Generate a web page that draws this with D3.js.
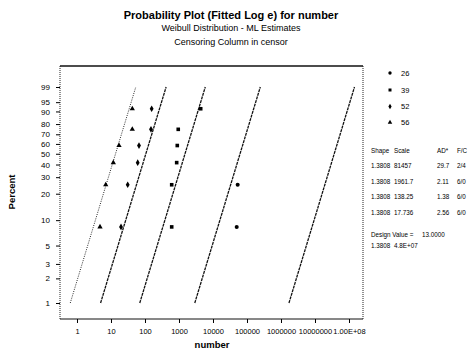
<!DOCTYPE html>
<html>
<head>
<meta charset="utf-8">
<script src="https://cdn.jsdelivr.net/npm/d3@7"></script>
<style>
  body { margin: 0; background: #fff; }
  svg { font-family: "Liberation Sans", Arial, sans-serif; }
  svg text { fill: #000; }
  .tbl { font-family: "Liberation Sans Narrow", "Arial Narrow", "Liberation Sans", sans-serif; font-size: 6.3px; }
  .tick text { font-family: "Liberation Sans Narrow", "Arial Narrow", "Liberation Sans", sans-serif; }
</style>
</head>
<body>
<svg id="chart" width="471" height="354"></svg>
<script>
// stress levels and the failure times
var groups = ["26", "39", "52", "56"];
var fail26 = [49800, 53200];
var fail39 = [610, 610, 855, 890, 950, 4350];
var fail52 = [19.7, 31, 61, 66.6, 150, 157];
var fail56 = [4.75, 7, 11.7, 17.2, 42.3, 42.3];
var sampleSize = [6, 6, 6, 6];

// fitted Weibull parameters (common shape)
var shapes = [1.3808, 1.3808, 1.3808, 1.3808];
var scales = [81457, 1961.7, 138.25, 17.736];
var adStats = ["29.7", "2.11", "1.38", "2.56"];
var fcCounts = ["2/4", "6/0", "6/0", "6/0"];

var designValue = "13.0000";
var designShape = 1.3808;
var designScale = 4.8e7;

var xTicks = [1, 10, 100, 1000, 10000, 100000, 1000000, 10000000, 100000000];
var xTickLabels = ["1", "10", "100", "1000", "10000", "100000", "1000000", "10000000", "1.00E+08"];
var yTicks = [1, 2, 3, 5, 10, 20, 30, 40, 50, 60, 70, 80, 90, 95, 99];

var failures = [fail26, fail39, fail52, fail56];
var symbols = [d3.symbolCircle, d3.symbolSquare, d3.symbolDiamond, d3.symbolTriangle];

var svg = d3.select("#chart");
var mLeft = 60, mRight = 363, mTop = 66, mBottom = 319;

// weibull probability transform
function wb(p) { return Math.log(-Math.log(1 - p)); }

var x = d3.scaleLog()
  .domain([Math.pow(10, -0.5), Math.pow(10, 8.412)])
  .range([mLeft, mRight]);
var y = d3.scaleLinear()
  .domain([-5.054, 2.123])
  .range([mBottom, mTop]);

// titles
svg.append("text").attr("x", 231).attr("y", 19).attr("text-anchor", "middle")
  .attr("font-size", 11).attr("font-weight", "bold").text("Probability Plot (Fitted Log e) for number");
svg.append("text").attr("x", 231).attr("y", 31).attr("text-anchor", "middle")
  .attr("font-size", 9).text("Weibull Distribution - ML Estimates");
svg.append("text").attr("x", 231).attr("y", 45).attr("text-anchor", "middle")
  .attr("font-size", 9).text("Censoring Column in censor");

// frame
svg.append("line").attr("x1", mLeft).attr("x2", mRight).attr("y1", mTop).attr("y2", mTop)
  .attr("stroke", "#111").attr("stroke-width", 1.3);
svg.append("line").attr("x1", mLeft).attr("x2", mRight).attr("y1", mBottom).attr("y2", mBottom)
  .attr("stroke", "#111").attr("stroke-width", 1);
svg.append("line").attr("x1", mLeft).attr("x2", mLeft).attr("y1", mTop).attr("y2", mBottom)
  .attr("stroke", "#222").attr("stroke-dasharray", "1,1");
svg.append("line").attr("x1", mRight).attr("x2", mRight).attr("y1", mTop).attr("y2", mBottom)
  .attr("stroke", "#222").attr("stroke-dasharray", "1,1");

// axes
var xAxis = d3.axisBottom(x).tickValues(xTicks)
  .tickFormat(function(d, i) { return xTickLabels[i]; })
  .tickSize(4).tickPadding(6);
var gx = svg.append("g").attr("transform", "translate(0," + mBottom + ")").call(xAxis);
gx.select(".domain").remove();
gx.selectAll("text").attr("font-size", 7.5);

var yAxis = d3.axisLeft(y).tickValues(yTicks.map(function(p) { return wb(p / 100); }))
  .tickFormat(function(d, i) { return yTicks[i]; })
  .tickSize(4).tickPadding(6);
var gy = svg.append("g").attr("transform", "translate(" + mLeft + ",0)").call(yAxis);
gy.select(".domain").remove();
gy.selectAll("text").attr("font-size", 8);

svg.append("text").attr("x", 212).attr("y", 348).attr("text-anchor", "middle")
  .attr("font-size", 9.5).attr("font-weight", "bold").text("number");
svg.append("text").attr("transform", "translate(15,192) rotate(-90)").attr("text-anchor", "middle")
  .attr("font-size", 9.5).attr("font-weight", "bold").text("Percent");

// fitted lines from 1% to 99%
function fitLine(beta, eta) {
  return [0.01, 0.99].map(function(p) {
    return [eta * Math.exp(wb(p) / beta), wb(p)];
  });
}
var line = d3.line().x(function(d) { return x(d[0]); }).y(function(d) { return y(d[1]); });

var lineParams = scales.map(function(s, i) { return [shapes[i], s]; });
lineParams.push([designShape, designScale]);

svg.selectAll("path.fit").data(lineParams).enter()
  .append("path").attr("class", "fit")
  .attr("d", function(d) { return line(fitLine(d[0], d[1])); })
  .attr("fill", "none")
  .attr("stroke", "#111")
  .attr("stroke-width", function(d, i) { return i === 3 ? 0.9 : 1.3; })
  .attr("stroke-dasharray", function(d, i) { return i === 3 ? "1,1.3" : "3,0.8"; });

// plotted points, modified Kaplan-Meier positions
failures.forEach(function(arr, g) {
  var n = sampleSize[g];
  svg.selectAll("path.pt" + g).data(arr).enter()
    .append("path").attr("class", "pt" + g)
    .attr("transform", function(d, i) {
      return "translate(" + x(d) + "," + y(wb((i + 0.5) / n)) + ")";
    })
    .attr("d", d3.symbol().type(symbols[g]).size(g === 3 ? 12 : 13))
    .attr("fill", "#000");
});

// legend
var legY = [73, 90, 106.5, 122.5];
groups.forEach(function(gname, i) {
  svg.append("path").attr("transform", "translate(390," + legY[i] + ")")
    .attr("d", d3.symbol().type(symbols[i]).size(9)).attr("fill", "#000");
  svg.append("text").attr("x", 401).attr("y", legY[i] + 2.5).attr("font-size", 7.5).text(gname);
});

// parameter table
var colX = [371, 394, 437, 457];
var header = ["Shape", "Scale", "AD*", "F/C"];
header.forEach(function(h, j) {
  svg.append("text").attr("class", "tbl").attr("x", colX[j]).attr("y", 152.5).text(h);
});
var rowY = [168, 183.5, 199, 214.5];
scales.forEach(function(s, i) {
  var cells = [shapes[i].toFixed(4), String(s), adStats[i], fcCounts[i]];
  cells.forEach(function(c, j) {
    svg.append("text").attr("class", "tbl").attr("x", colX[j]).attr("y", rowY[i]).text(c);
  });
});

svg.append("text").attr("class", "tbl").attr("x", 371).attr("y", 236.5).text("Design Value =");
svg.append("text").attr("class", "tbl").attr("x", 422).attr("y", 236.5).text(designValue);
svg.append("text").attr("class", "tbl").attr("x", 371).attr("y", 248).text(designShape.toFixed(4));
svg.append("text").attr("class", "tbl").attr("x", 394).attr("y", 248)
  .text(d3.format(".1e")(designScale).replace("e+", "E+0").toUpperCase());
</script>
</body>
</html>
